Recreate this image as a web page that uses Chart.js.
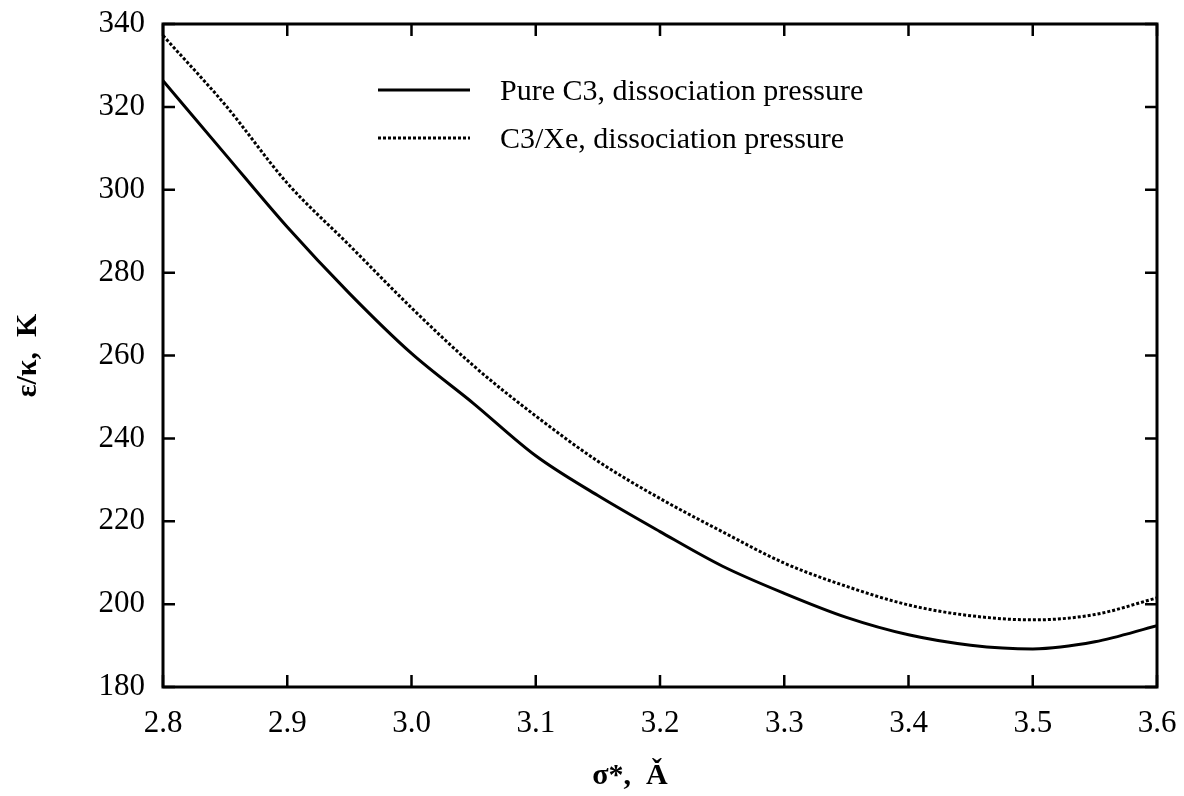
<!DOCTYPE html>
<html>
<head>
<meta charset="utf-8">
<script src="https://cdn.jsdelivr.net/npm/chart.js@4/dist/chart.umd.min.js"></script>
<style>
    html, body { margin: 0; padding: 0; background: #fff; }
    #wrap { width: 1184px; height: 796px; }
</style>
</head>
<body>
<div id="wrap"><canvas id="myChart" width="1184" height="796"></canvas></div>
<script>
const sigma = [2.80, 2.85, 2.90, 2.95, 3.00, 3.05, 3.10, 3.15, 3.20, 3.25, 3.30, 3.35, 3.40, 3.45, 3.50, 3.55, 3.60];
// epsilon/kappa, K
const pureC3 = [326.3, 308.6, 291.0, 275.0, 260.5, 248.4, 235.8, 226.2, 217.5, 209.2, 202.6, 196.8, 192.6, 190.1, 189.2, 190.9, 194.8];
const c3Xe   = [337.2, 320.5, 301.6, 286.6, 271.5, 257.5, 245.4, 234.5, 225.5, 217.5, 209.9, 204.3, 199.8, 197.2, 196.2, 197.5, 201.5];

const seriesNames = ["Pure C3, dissociation pressure", "C3/Xe, dissociation pressure"];
const xTicks = [2.8, 2.9, 3.0, 3.1, 3.2, 3.3, 3.4, 3.5, 3.6];
const yTicks = [180, 200, 220, 240, 260, 280, 300, 320, 340];

const SERIF = "'Liberation Serif', 'Times New Roman', serif";

const toPoints = (ys) => sigma.map((x, i) => ({ x, y: ys[i] }));

// frame on all four sides + inward ticks
const framePlugin = {
    id: "frame",
    afterDraw(chart) {
        const { ctx, chartArea: a, scales } = chart;
        ctx.save();
        ctx.strokeStyle = "#000";
        ctx.lineWidth = 3;
        ctx.strokeRect(a.left, a.top, a.right - a.left, a.bottom - a.top);
        ctx.lineWidth = 2.5;
        const len = 12;
        ctx.beginPath();
        xTicks.forEach((v) => {
            const px = scales.x.getPixelForValue(v);
            ctx.moveTo(px, a.bottom); ctx.lineTo(px, a.bottom - len);
            ctx.moveTo(px, a.top); ctx.lineTo(px, a.top + len);
        });
        yTicks.forEach((v) => {
            const py = scales.y.getPixelForValue(v);
            ctx.moveTo(a.left, py); ctx.lineTo(a.left + len, py);
            ctx.moveTo(a.right, py); ctx.lineTo(a.right - len, py);
        });
        ctx.stroke();
        ctx.restore();
    },
};

// legend drawn inside the plot area like the original
const insideLegend = {
    id: "insideLegend",
    afterDraw(chart) {
        const ctx = chart.ctx;
        ctx.save();
        ctx.font = "30px " + SERIF;
        ctx.textBaseline = "middle";
        ctx.fillStyle = "#000";
        chart.data.datasets.forEach((ds, i) => {
            const y = 90 + i * 48;
            ctx.strokeStyle = ds.borderColor;
            ctx.lineWidth = ds.borderWidth;
            ctx.setLineDash(ds.borderDash || []);
            ctx.beginPath();
            ctx.moveTo(378, y);
            ctx.lineTo(470, y);
            ctx.stroke();
            ctx.setLineDash([]);
            ctx.fillText(ds.label, 500, y + 2);
        });
        ctx.restore();
    },
};

const ctx = document.getElementById("myChart").getContext("2d");
new Chart(ctx, {
    type: "line",
    data: {
        datasets: [
            {
                label: seriesNames[0],
                data: toPoints(pureC3),
                borderColor: "#000",
                borderWidth: 3,
                pointRadius: 0,
                fill: false,
                cubicInterpolationMode: "monotone",
            },
            {
                label: seriesNames[1],
                data: toPoints(c3Xe),
                borderColor: "#000",
                borderWidth: 3,
                borderDash: [3, 2],
                pointRadius: 0,
                fill: false,
                cubicInterpolationMode: "monotone",
            },
        ],
    },
    options: {
        responsive: false,
        animation: false,
        layout: { padding: { left: 0, top: 24, right: 27, bottom: 0 } },
        plugins: {
            legend: { display: false },
            tooltip: { enabled: false },
        },
        scales: {
            x: {
                type: "linear",
                min: 2.8,
                max: 3.6,
                afterFit: (s) => { s.height = 109; s.paddingLeft = 0; s.paddingRight = 0; },
                afterBuildTicks: (s) => { s.ticks = xTicks.map((v) => ({ value: v })); },
                grid: { display: false, drawTicks: false },
                border: { display: false },
                ticks: {
                    color: "#000",
                    padding: 18,
                    font: { family: SERIF, size: 31 },
                    callback: (v) => v.toFixed(1),
                },
                title: {
                    display: true,
                    text: "σ*,  Ǎ\u2003\u2003",
                    color: "#000",
                    font: { family: SERIF, size: 30, weight: "bold" },
                    padding: { top: 0, bottom: 2 },
                },
            },
            y: {
                min: 180,
                max: 340,
                afterFit: (s) => { s.width = 163; s.paddingTop = 0; s.paddingBottom = 0; },
                afterBuildTicks: (s) => { s.ticks = yTicks.map((v) => ({ value: v })); },
                grid: { display: false, drawTicks: false },
                border: { display: false },
                ticks: {
                    color: "#000",
                    padding: 18,
                    font: { family: SERIF, size: 31 },
                },
                title: {
                    display: true,
                    text: "ε/κ,  K",
                    color: "#000",
                    font: { family: SERIF, size: 30, weight: "bold" },
                    padding: { top: 10, bottom: 0 },
                },
            },
        },
    },
    plugins: [framePlugin, insideLegend],
});
</script>
</body>
</html>
